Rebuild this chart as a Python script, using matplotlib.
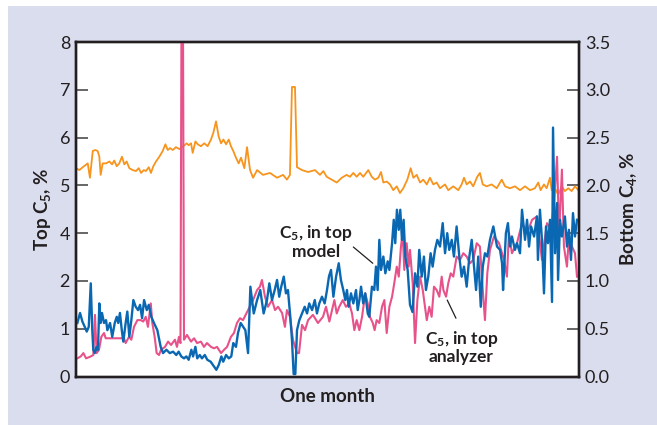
import matplotlib.pyplot as plt
from matplotlib.patches import Rectangle

plt.rcParams.update({
    "font.family": ["Lato", "DejaVu Sans"],
    "mathtext.default": "regular",
})

# Bottom C4 (right axis), time in days over one month
C4_DAY = [0.00, 0.20, 0.40, 0.70, 0.83, 1.00, 1.15, 1.29, 1.39, 1.47, 1.59, 1.79, 1.99, 2.15,
          2.28, 2.43, 2.58, 2.74, 2.88, 3.02, 3.18, 3.38, 3.58, 3.74, 3.88, 4.04, 4.17, 4.34,
          4.47, 4.61, 4.77, 4.97, 5.17, 5.33, 5.47, 5.61, 5.77, 5.96, 6.16, 6.40, 6.60, 6.72,
          6.86, 6.96, 7.12, 7.26, 7.45, 7.65, 7.85, 8.05, 8.19, 8.35, 8.51, 8.65, 8.79, 8.95,
          9.11, 9.24, 9.38, 9.54, 9.70, 9.84, 10.04, 10.20, 10.38, 10.56, 10.80, 11.15, 11.57,
          11.99, 12.35, 12.58, 12.76, 12.88, 13.06, 13.18, 13.48, 13.84, 14.25, 14.55, 14.75,
          14.95, 15.25, 15.55, 15.85, 16.14, 16.34, 16.54, 16.74, 16.94, 17.13, 17.43, 17.64,
          17.83, 18.03, 18.19, 18.33, 18.53, 18.73, 18.92, 19.13, 19.32, 19.52, 19.76, 19.96,
          20.12, 20.32, 20.52, 20.71, 20.92, 21.11, 21.31, 21.51, 21.71, 22.01, 22.20, 22.50,
          22.80, 23.00, 23.14, 23.30, 23.50, 23.69, 23.93, 24.09, 24.26, 24.49, 24.79, 25.09,
          25.39, 25.59, 25.88, 26.18, 26.48, 26.78, 27.08, 27.37, 27.57, 27.71, 27.91, 28.07,
          28.27, 28.37, 28.57, 28.76, 28.97, 29.16, 29.36, 29.56, 29.76, 29.96]
BOTTOM_C4 = [2.18, 2.16, 2.19, 2.23, 2.08, 2.36, 2.37, 2.36, 2.30, 2.11, 2.23, 2.23, 2.25, 2.22,
             2.26, 2.20, 2.23, 2.30, 2.22, 2.25, 2.18, 2.16, 2.15, 2.18, 2.13, 2.16, 2.15, 2.19,
             2.13, 2.20, 2.25, 2.30, 2.36, 2.43, 2.37, 2.39, 2.37, 2.40, 2.38, 2.41, 2.44, 2.42,
             2.44, 2.34, 2.46, 2.43, 2.41, 2.44, 2.41, 2.48, 2.55, 2.67, 2.51, 2.44, 2.48, 2.43,
             2.48, 2.41, 2.36, 2.29, 2.23, 2.29, 2.18, 2.40, 2.16, 2.08, 2.16, 2.11, 2.13,
             2.08, 2.11, 2.06, 2.11, 3.03, 3.03, 2.19, 2.16, 2.14, 2.16, 2.11, 2.15,
             2.09, 2.06, 2.03, 2.08, 2.11, 2.09, 2.13, 2.09, 2.13, 2.09, 2.16, 2.09,
             2.06, 2.08, 2.14, 2.03, 2.04, 2.01, 1.95, 1.99, 1.92, 1.97, 2.06, 2.18,
             2.08, 2.11, 2.03, 2.06, 2.01, 2.08, 2.01, 2.03, 1.97, 2.01, 1.95, 1.99,
             1.95, 2.01, 2.08, 2.01, 2.04, 1.99, 2.09, 2.13, 2.01, 1.99, 2.01, 1.97,
             2.06, 1.99, 1.97, 1.99, 1.95, 1.99, 1.95, 1.97, 2.03, 1.95, 2.01, 1.97,
             2.08, 1.95, 1.97, 1.90, 1.99, 1.94, 1.97, 1.94, 1.99, 1.95]

# Top C5 from the model (left axis)
MODEL_DAY = [0.08, 0.24, 0.38, 0.52, 0.64, 0.76, 0.88, 0.97, 1.03, 1.12, 1.23, 1.31, 1.39, 1.47,
             1.55, 1.67, 1.79, 1.87, 2.03, 2.16, 2.31, 2.43, 2.52, 2.62, 2.73, 2.82, 2.96, 3.06,
             3.18, 3.30, 3.42, 3.56, 3.70, 3.82, 3.94, 4.06, 4.22, 4.34, 4.49, 4.65, 4.85, 5.05,
             5.19, 5.39, 5.59, 5.79, 5.98, 6.12, 6.28, 6.44, 6.58, 6.72, 6.88, 6.98, 7.12, 7.23,
             7.38, 7.51, 7.68, 7.83, 8.03, 8.23, 8.37, 8.51, 8.67, 8.78, 8.95, 9.11, 9.26, 9.38,
             9.54, 9.66, 9.82, 10.10, 10.26, 10.40, 10.60, 10.80, 10.99, 11.19, 11.39, 11.53,
             11.69, 11.85, 11.99, 12.12, 12.24, 12.39, 12.52, 12.64, 12.78, 12.88, 12.98, 13.08,
             13.18, 13.32, 13.48, 13.64, 13.78, 13.91, 14.08, 14.24, 14.37, 14.51, 14.67, 14.83,
             14.97, 15.09, 15.21, 15.35, 15.51, 15.67, 15.80, 15.94, 16.06, 16.16, 16.26, 16.40,
             16.54, 16.70, 16.80, 16.90, 17.00, 17.13, 17.25, 17.40, 17.49, 17.65, 17.79, 17.89,
             17.99, 18.09, 18.19, 18.33, 18.45, 18.59, 18.69, 18.85, 18.95, 19.04, 19.14, 19.25,
             19.34, 19.44, 19.54, 19.64, 19.78, 19.92, 20.07, 20.22, 20.36, 20.47, 20.62, 20.75,
             20.87, 21.01, 21.15, 21.27, 21.41, 21.55, 21.71, 21.87, 22.01, 22.14, 22.26, 22.41,
             22.54, 22.70, 22.86, 23.00, 23.14, 23.30, 23.46, 23.60, 23.74, 23.86, 23.99, 24.14,
             24.26, 24.39, 24.53, 24.69, 24.89, 25.11, 25.29, 25.41, 25.47, 25.64, 25.76, 25.88,
             26.00, 26.18, 26.30, 26.48, 26.60, 26.78, 26.90, 27.02, 27.14, 27.32, 27.49, 27.55,
             27.67, 27.79, 27.91, 28.03, 28.15, 28.27, 28.39, 28.45, 28.57, 28.69, 28.75, 28.87,
             28.98, 29.16, 29.28, 29.40, 29.52, 29.64, 29.76, 29.88]
MODEL_C5 = [1.12, 1.33, 1.15, 1.04, 0.94, 1.04, 1.95, 0.97, 0.56, 0.49, 0.62, 0.56, 1.53, 1.12,
            1.33, 1.12, 1.18, 0.97, 1.12, 0.83, 1.12, 1.25, 1.12, 1.33, 0.97, 0.73, 1.12, 1.36,
            0.83, 1.18, 1.60, 1.46, 1.39, 1.50, 1.22, 1.60, 1.39, 1.50, 1.25, 1.12, 0.97, 0.62,
            0.49, 0.56, 0.49, 0.52, 0.45, 0.52, 0.42, 0.38, 0.42, 0.35, 0.56, 0.42, 0.62, 0.38,
            0.45, 0.38, 0.45, 0.35, 0.31, 0.21, 0.14, 0.24, 0.42, 0.31, 0.45, 0.38, 0.42, 0.70,
            0.62, 0.91, 1.12, 0.97, 0.49, 1.88, 1.32, 1.60, 1.81, 1.32, 1.60, 1.95,
            1.60, 1.81, 2.02, 1.67, 1.88, 2.09, 1.74, 1.81, 1.25, 0.77, 0.05, 0.05,
            0.97, 1.18, 1.32, 1.46, 1.32, 1.53, 1.39, 1.60, 1.32, 1.53, 1.67, 1.53,
            1.81, 2.10, 2.23, 1.67, 2.09, 2.37, 2.02, 1.81, 1.60, 1.81, 1.46, 1.74,
            1.53, 1.81, 1.39, 1.60, 1.88, 1.53, 1.74, 1.32, 1.25, 1.88, 1.81, 2.30,
            1.81, 2.86, 2.23, 2.51, 2.16, 2.41, 2.23, 2.79, 3.28, 2.79, 3.49, 3.07,
            3.49, 2.86, 3.28, 2.51, 2.23, 1.50, 1.35, 2.16, 1.88, 2.65, 2.09, 2.51,
            1.81, 2.09, 2.58, 2.30, 2.65, 2.86, 2.72, 3.21, 2.58, 3.00, 2.65, 2.86,
            2.51, 3.14, 2.51, 2.09, 2.30, 1.88, 2.51, 2.86, 2.30, 1.81, 2.51, 1.46,
            2.30, 2.58, 2.51, 2.86, 3.14, 2.72, 2.65, 2.37, 1.81, 3.00, 3.21, 2.72,
            2.93, 2.65, 2.79, 2.58, 3.49, 2.86, 3.28, 2.72, 3.14, 2.93, 3.35, 2.44,
            3.49, 2.86, 1.74, 3.14, 2.79, 3.28, 1.56, 5.21, 2.58, 3.63, 2.02, 3.28,
            2.93, 3.35, 2.72, 3.07, 2.44, 3.42, 2.93, 3.28]

# Top C5 from the analyzer (left axis)
ANALYZER_DAY = [0.08, 0.28, 0.44, 0.60, 0.88, 1.03, 1.13, 1.23, 1.37, 1.51, 1.67, 1.77, 2.86,
                2.96, 3.16, 3.30, 3.46, 3.66, 3.86, 4.01, 4.16, 4.29, 4.46, 4.55, 4.69, 4.81,
                4.95, 5.07, 5.31, 5.49, 5.67, 5.90, 6.02, 6.14, 6.23, 6.29, 6.38, 6.44, 6.62,
                6.86, 7.04, 7.22, 7.45, 7.63, 7.81, 8.05, 8.23, 8.41, 8.65, 8.83, 9.01, 9.24,
                9.42, 9.60, 9.78, 9.96, 10.26, 10.56, 10.80, 10.97, 11.09, 11.27, 11.45, 11.69,
                11.87, 12.05, 12.29, 12.46, 12.58, 12.76, 12.94, 13.18, 13.30, 13.48, 13.66,
                13.84, 14.13, 14.43, 14.73, 14.91, 15.11, 15.27, 15.41, 15.55, 15.70, 15.91,
                16.10, 16.30, 16.46, 16.60, 16.74, 16.90, 17.06, 17.25, 17.40, 17.53, 17.70,
                17.81, 17.93, 18.09, 18.25, 18.39, 18.53, 18.69, 18.85, 18.98, 19.13, 19.25,
                19.38, 19.48, 19.58, 19.72, 19.84, 19.92, 20.08, 20.22, 20.36, 20.52, 20.68,
                20.81, 20.92, 21.07, 21.21, 21.35, 21.51, 21.67, 21.81, 21.91, 22.07, 22.20,
                22.35, 22.50, 22.70, 22.90, 23.10, 23.30, 23.50, 23.69, 23.90, 24.09, 24.26,
                24.39, 24.53, 24.69, 24.93, 25.23, 25.53, 25.70, 25.82, 26.00, 26.30, 26.60,
                26.90, 27.20, 27.49, 27.79, 28.09, 28.33, 28.51, 28.69, 28.81, 28.98, 29.10,
                29.28, 29.40, 29.58, 29.76, 29.88]
ANALYZER_C5 = [0.38, 0.42, 0.49, 0.38, 0.42, 0.45, 1.29, 0.49, 0.56, 0.83, 0.91, 0.80, 0.80,
               0.70, 0.83, 0.77, 1.04, 1.18, 1.18, 1.15, 1.25, 1.04, 1.53, 1.12, 0.83, 0.49,
               0.45, 0.56, 0.62, 0.73, 0.66, 0.77, 0.62, 0.83, 0.70, 7.40, 7.40, 0.77, 0.87,
               0.73, 0.80, 0.70, 0.73, 0.62, 0.70, 0.62, 0.59, 0.62, 0.49, 0.56, 0.62, 0.83,
               0.91, 1.12, 1.22, 1.18, 1.39, 1.60, 1.81, 1.88, 2.02, 1.67, 1.46, 1.60,
               1.39, 1.46, 1.33, 1.04, 1.39, 1.25, 0.77, 0.49, 0.49, 1.08, 0.97,
               1.18, 1.29, 1.12, 1.25, 1.46, 1.15, 1.39, 1.60, 1.32, 1.46, 1.60,
               1.46, 1.53, 1.32, 0.97, 1.18, 0.97, 1.25, 1.74, 1.53, 1.25, 1.12,
               0.97, 1.18, 1.12, 1.46, 1.60, 0.91, 1.46, 1.67, 1.95, 2.30, 2.09,
               2.72, 3.00, 2.23, 2.79, 2.30, 2.65, 1.95, 0.70, 1.60, 2.09, 1.81,
               1.46, 1.18, 1.46, 1.25, 1.88, 1.81, 1.67, 2.09, 1.81, 1.67, 1.95,
               2.16, 2.09, 2.51, 2.44, 2.58, 2.51, 2.37, 2.44, 2.79, 2.72, 1.81,
               1.18, 2.16, 2.65, 2.93, 2.79, 2.44, 2.09, 3.00, 2.58, 2.79, 3.21,
               3.00, 3.28, 3.35, 2.44, 3.21, 3.07, 3.63, 4.60, 2.93, 4.33, 2.72,
               2.30, 2.93, 2.72, 2.58, 2.09]

LEFT_TICK_LABELS = ["0", "1", "2", "4", "5", "6", "7", "8"]
RIGHT_TICKS = [0.0, 0.5, 1.0, 1.5, 2.0, 2.5, 3.0, 3.5]

MODEL_LABEL_POS = (14.31, 2.82)
MODEL_LEADER = ((16.54, 2.71), (17.70, 2.37))
ANALYZER_LABEL_POS = (22.99, 0.62)
ANALYZER_LEADER = ((22.14, 1.60), (22.66, 1.22))

BG = "#dadded"
INK = "#231f20"
BLUE = "#0a68b2"
PINK = "#e8528a"
ORANGE = "#f7941d"

fig = plt.figure(figsize=(6.57, 4.25), dpi=100, facecolor="white")
fig.patches.append(Rectangle((8 / 657, 0), 1, 419 / 425, transform=fig.transFigure,
                             facecolor=BG, edgecolor="none", zorder=-10))

ax = fig.add_axes([0.1157, 0.1141, 0.7656, 0.787])
ax2 = ax.twinx()
ax.set_zorder(ax2.get_zorder() + 1)
ax.patch.set_visible(False)
ax2.patch.set_visible(True)
ax2.patch.set_facecolor("white")

ax2.plot(C4_DAY, BOTTOM_C4, color=ORANGE, lw=1.3, solid_joinstyle="round")
ax.plot(ANALYZER_DAY, ANALYZER_C5, color=PINK, lw=1.5, solid_joinstyle="round")
ax.plot(MODEL_DAY, MODEL_C5, color=BLUE, lw=1.7, solid_joinstyle="round")

ax.set_xlim(0, 30)
ax.set_ylim(0, 7)
ax2.set_ylim(0, 3.5)
ax.set_xticks([])

ax.set_yticks(range(len(LEFT_TICK_LABELS)))
ax.set_yticklabels(LEFT_TICK_LABELS)
ax2.set_yticks(RIGHT_TICKS)
ax2.set_yticklabels([f"{t:.1f}" for t in RIGHT_TICKS])

for a in (ax, ax2):
    a.tick_params(axis="y", direction="in", length=8.6, width=1.2, color="#4d4d4d",
                  labelsize=13, labelcolor=INK, pad=4.3)
    for sp in a.spines.values():
        sp.set_linewidth(1.7)
        sp.set_color(INK)

ax.set_ylabel("Top C$_5$, %", fontsize=13.5, fontweight="bold", color=INK)
ax.yaxis.set_label_coords(-0.046, 0.5)
ax2.set_ylabel("Bottom C$_4$, %", fontsize=13.5, fontweight="bold", color=INK)
ax2.yaxis.set_label_coords(1.077, 0.5)
ax.set_xlabel("One month", fontsize=13.5, fontweight="bold", color=INK)
ax.xaxis.set_label_coords(0.5, -0.035)

ax.text(*MODEL_LABEL_POS, "C$_5$, in top\nmodel", fontsize=12.5, fontweight="bold",
        color=INK, ha="center", va="center", multialignment="center", linespacing=1.05)
ax.annotate("", xy=MODEL_LEADER[1], xytext=MODEL_LEADER[0],
            arrowprops=dict(arrowstyle="-", lw=0.9, color=INK, shrinkA=0, shrinkB=0))
ax.text(*ANALYZER_LABEL_POS, "C$_5$, in top\nanalyzer", fontsize=12.5, fontweight="bold",
        color=INK, ha="center", va="center", multialignment="center", linespacing=1.05)
ax.annotate("", xy=ANALYZER_LEADER[1], xytext=ANALYZER_LEADER[0],
            arrowprops=dict(arrowstyle="-", lw=0.9, color=INK, shrinkA=0, shrinkB=0))

fig.savefig("out.png", dpi=100)
